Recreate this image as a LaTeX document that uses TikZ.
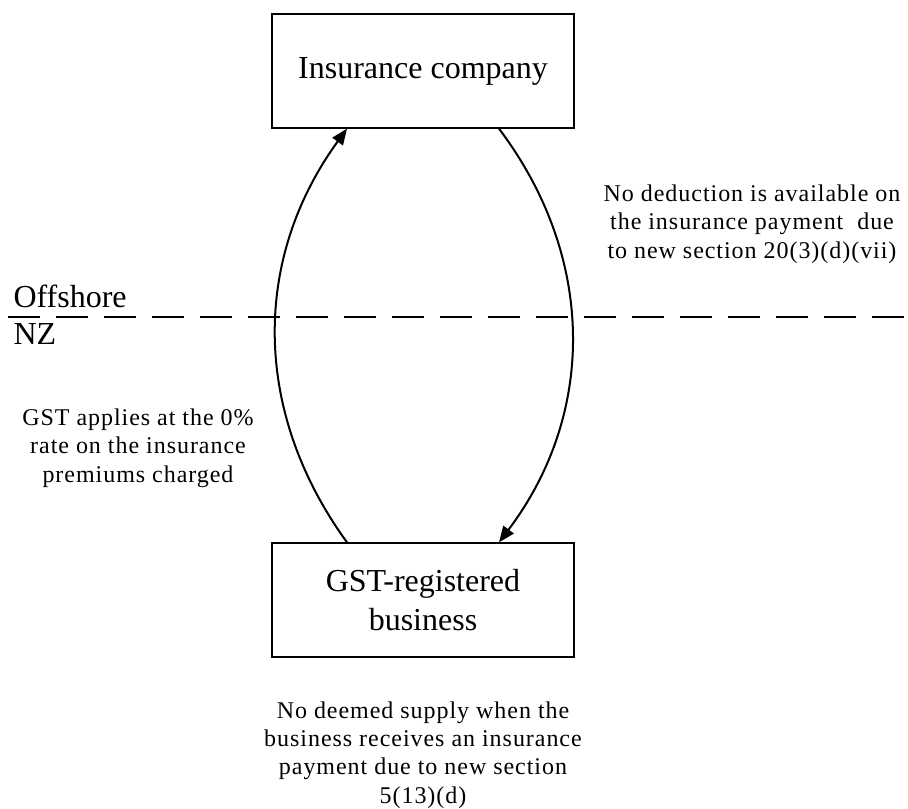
\documentclass[tikz,border=0pt]{standalone}
\usepackage{fontspec}
\setmainfont{Liberation Serif}
\newfontfamily\notefont[LetterSpace=4]{Liberation Serif}
\usetikzlibrary{arrows.meta}

\begin{document}
\begin{tikzpicture}[x=0.375pt,y=-0.375pt,
        party/.style={draw,line width=0.75pt,minimum width=113pt,minimum height=42.5pt,
            align=center,font=\fontsize{12}{14.3}\selectfont},
        note/.style={align=center,inner sep=0pt,font=\notefont\fontsize{9}{10.6}\selectfont},
        flow/.style={line width=0.75pt,-{Triangle[length=6pt,width=4.8pt]}}]
        \useasboundingbox (0,0) rectangle (908,809);

        \node[party] (insurer) at (423,71) {Insurance company};
        \node[party] (business) at (423,600) {GST-registered\\business};

        % border between offshore and NZ
        \coordinate (borderW) at (8,317);
        \coordinate (borderE) at (908,317);
        \draw[line width=0.75pt,dash pattern=on 12pt off 6pt] (borderW)--(borderE);
        \node[anchor=base west,inner sep=0pt,font=\fontsize{12}{14}\selectfont] (offshore) at (13,308) {Offshore};
        \node[anchor=base west,inner sep=0pt,font=\fontsize{12}{14}\selectfont] (nz) at (13,345) {NZ};

        \draw[flow] ([xshift=-28.5pt]business.north) to[bend left=36] ([xshift=-28.5pt]insurer.south);
        \draw[flow] ([xshift=28.5pt]insurer.south) to[bend left=37] ([xshift=28.5pt]business.north);

        \node[note] (deduction) at (752,224) {No deduction is available on\\the insurance payment\ \ due\\to new section 20(3)(d)(vii)};
        \node[note] (zerorate) at (138,448) {GST applies at the 0\%\\rate on the insurance\\premiums charged};
        \node[note] (nosupply) at (423,755) {No deemed supply when the\\business receives an insurance\\payment due to new section\\5(13)(d)};
    \end{tikzpicture}
\end{document}
